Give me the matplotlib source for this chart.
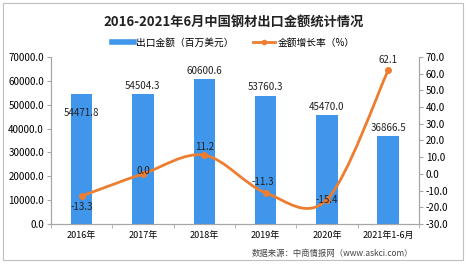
import numpy as np
from matplotlib import pyplot as plt
from matplotlib.path import Path
from matplotlib.patches import PathPatch, Rectangle
from matplotlib.lines import Line2D

plt.rcParams['font.family'] = ['Noto Sans CJK SC', 'DejaVu Sans']

years = ['2016年', '2017年', '2018年', '2019年', '2020年', '2021年1-6月']
amount = [54471.8, 54504.3, 60600.6, 53760.3, 45470.0, 36866.5]
rate = [-13.3, 0.0, 11.2, -11.3, -15.4, 62.1]

bar_color = '#4096ea'
line_color = '#ed7d31'
axis_color = '#a6a6a6'

fig = plt.figure(figsize=(4.67, 2.65), dpi=100)
fig.patches.append(Rectangle((0.006, 0.02), 0.985, 0.968, transform=fig.transFigure,
                             fill=False, edgecolor='#bfbfbf', linewidth=0.8))
ax = fig.add_axes([0.109, 0.155, 0.788, 0.630])
ax2 = ax.twinx()

x = np.arange(len(years))
ax.bar(x, amount, width=0.35, color=bar_color, zorder=2)
ax.set_xlim(-0.5, len(years) - 0.5)
ax.set_ylim(0, 70000)
ax.set_yticks(np.arange(0, 70001, 10000))
ax.set_yticklabels(['%.1f' % v for v in np.arange(0, 70001, 10000)])
ax.set_xticks(x)
ax.set_xticklabels(years)
ax.set_xticks(np.arange(-0.5, len(years), 1), minor=True)
ax.tick_params(axis='x', which='major', length=0, labelsize=6.5, pad=5)
ax.tick_params(axis='x', which='minor', length=3, color=axis_color)
ax.tick_params(axis='y', length=3, color=axis_color, labelsize=7, pad=2)

# bar value labels (first one sits inside the bar)
bar_offs = [-14, 6, 6, 6, 6, 6]
for i, v in enumerate(amount):
    ax.annotate('%.1f' % v, (x[i], v), xytext=(0, bar_offs[i]), textcoords='offset points',
                ha='center', va='center', fontsize=7, color='#222222', zorder=5)

# smoothed line for the growth rate
pts = np.column_stack([x, rate]).astype(float)
n = len(pts)
verts = [tuple(pts[0])]
codes = [Path.MOVETO]
for i in range(n - 1):
    p0 = pts[max(i - 1, 0)]
    p1 = pts[i]
    p2 = pts[i + 1]
    p3 = pts[min(i + 2, n - 1)]
    c1 = p1 + (p2 - p0) / 6
    c2 = p2 - (p3 - p1) / 6
    verts += [tuple(c1), tuple(c2), tuple(p2)]
    codes += [Path.CURVE4] * 3
ax2.add_patch(PathPatch(Path(verts, codes), fill=False, edgecolor=line_color, linewidth=2, zorder=3))
ax2.plot(x, rate, 'o', color=line_color, markersize=4, zorder=4)
ax2.set_ylim(-30, 70)
ax2.set_yticks(np.arange(-30, 71, 10))
ax2.set_yticklabels(['%.1f' % v for v in np.arange(-30, 71, 10)])
ax2.tick_params(axis='y', length=3, color=axis_color, labelsize=7, pad=2)

rate_offs = [(0, -8), (0, 2), (0, 6), (-2, 8), (0, 0), (0, 7)]
for i, v in enumerate(rate):
    ax2.annotate('%.1f' % v, (x[i], v), xytext=rate_offs[i], textcoords='offset points',
                 ha='center', va='center', fontsize=7, color='#222222', zorder=5)

for a in (ax, ax2):
    a.spines['top'].set_visible(False)
    for s in ('left', 'right', 'bottom'):
        a.spines[s].set_color(axis_color)
        a.spines[s].set_linewidth(0.8)

fig.text(0.5, 0.915, '2016-2021年6月中国钢材出口金额统计情况', ha='center', va='center',
         fontsize=9.5, fontweight='bold', color='#222222')
handles = [Line2D([], [], color=bar_color, linewidth=4),
           Line2D([], [], color=line_color, linewidth=2, marker='o', markersize=3)]
fig.legend(handles, ['出口金额（百万美元）', '金额增长率（%）'], loc='center',
           bbox_to_anchor=(0.5, 0.84), ncol=2, frameon=False, fontsize=7,
           handlelength=2.2, columnspacing=2.0, handletextpad=0.3)
fig.text(0.885, 0.045, '数据来源：中商情报网（www.askci.com）', ha='right', va='center',
         fontsize=6, color='#444444')

plt.savefig('out.png', dpi=100)
